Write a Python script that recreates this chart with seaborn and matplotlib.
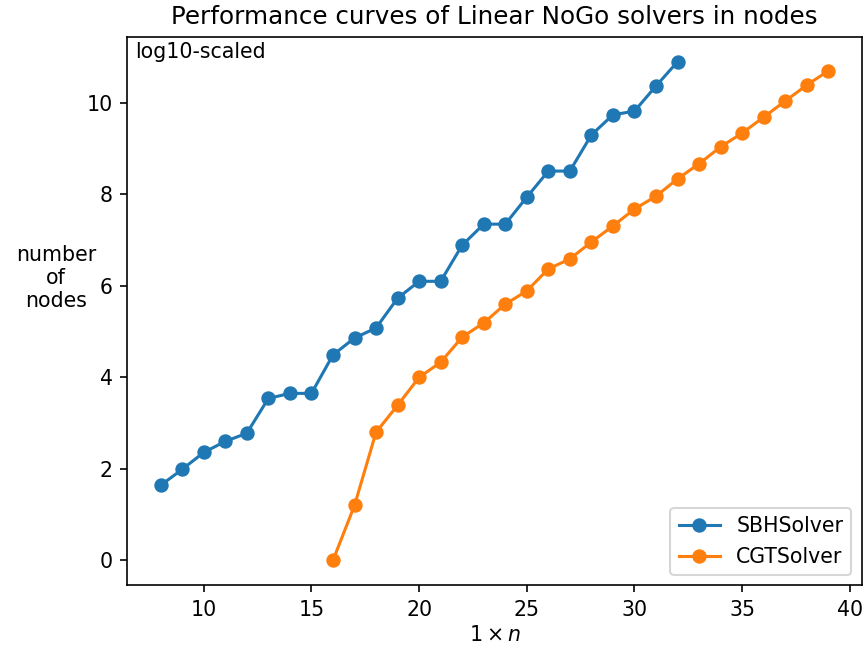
import matplotlib
matplotlib.use("Agg")
import matplotlib.pyplot as plt
import seaborn as sns
import pandas as pd

sbh_n = list(range(8, 33))
sbh_nodes = [1.64, 1.99, 2.36, 2.60, 2.78, 3.54, 3.65, 3.65, 4.49, 4.86, 5.08, 5.73,
             6.10, 6.10, 6.89, 7.35, 7.35, 7.94, 8.51, 8.51, 9.30, 9.74, 9.82, 10.37, 10.90]
cgt_n = list(range(16, 40))
cgt_nodes = [0.0, 1.20, 2.80, 3.39, 4.00, 4.33, 4.88, 5.19, 5.60, 5.89, 6.37, 6.59,
             6.96, 7.31, 7.68, 7.96, 8.34, 8.67, 9.04, 9.34, 9.69, 10.04, 10.39, 10.70]

sbh = pd.DataFrame({"n": sbh_n, "nodes": sbh_nodes})
cgt = pd.DataFrame({"n": cgt_n, "nodes": cgt_nodes})

DPI = 148
fig, ax = plt.subplots(figsize=(866 / DPI, 646 / DPI), dpi=DPI)
for d, name, col in [(sbh, "SBHSolver", "#1f77b4"), (cgt, "CGTSolver", "#ff7f0e")]:
    sns.lineplot(data=d, x="n", y="nodes", marker="o", markersize=6,
                 markeredgewidth=1, markeredgecolor=col, color=col,
                 linewidth=1.5, label=name, ax=ax)
ax.set_title("Performance curves of Linear NoGo solvers in nodes")
ax.set_xlabel(r"$1 \times n$", labelpad=2.5)
ax.set_ylabel("number\nof\nnodes", rotation=0, labelpad=15)
ax.text(0.01, 0.99, "log10-scaled", transform=ax.transAxes, ha="left", va="top")
ax.legend(loc="lower right")
fig.subplots_adjust(left=0.147, right=0.995, top=0.943, bottom=0.094)
fig.savefig("out.png", dpi=DPI)
